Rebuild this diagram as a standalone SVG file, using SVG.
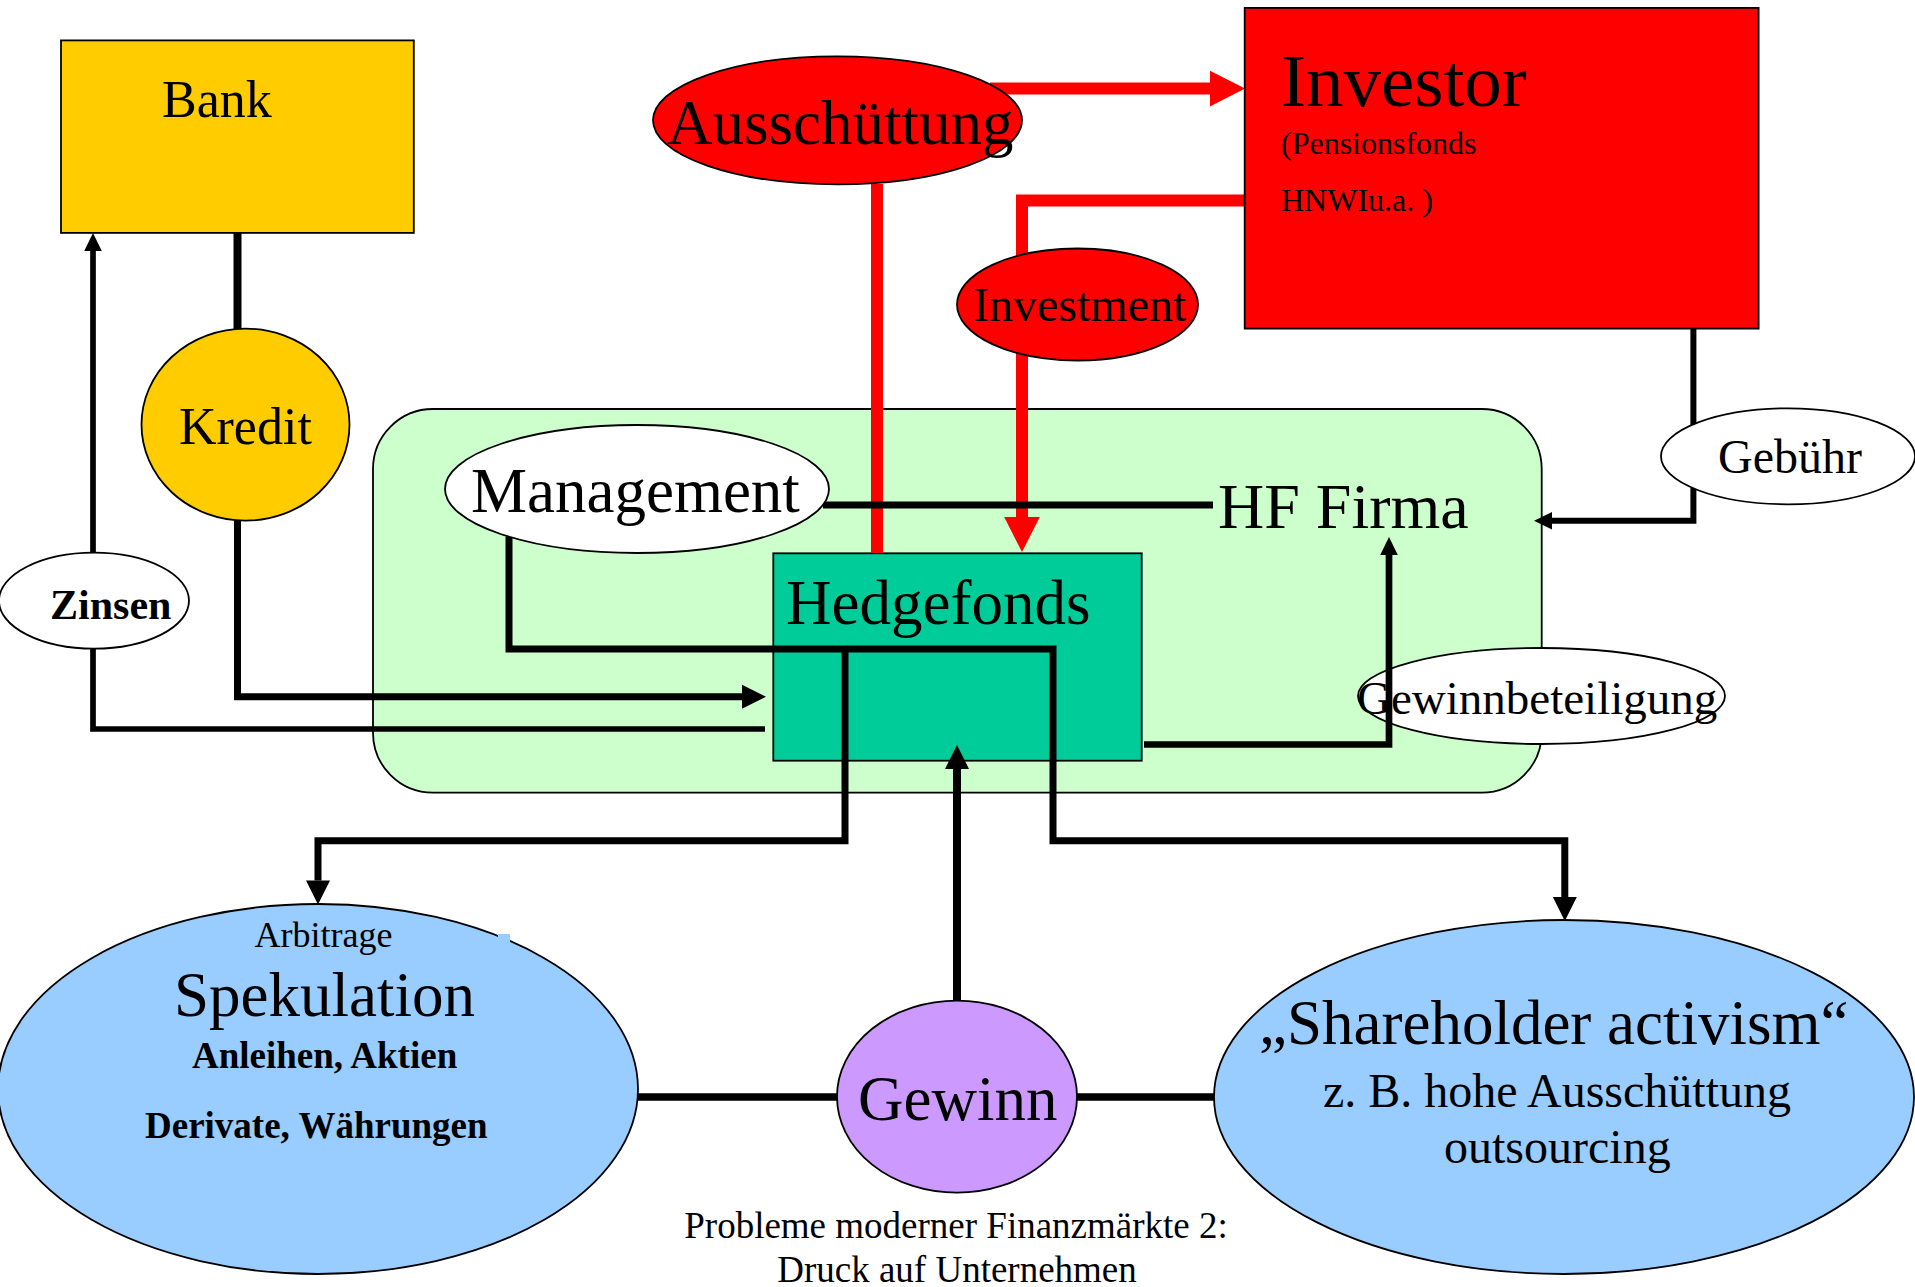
<svg xmlns="http://www.w3.org/2000/svg" width="1915" height="1287" viewBox="0 0 1915 1287">
<style>
text{font-family:"Liberation Serif","Times New Roman",serif;fill:#000}
.b{font-weight:bold}
.nd{stroke:#000;stroke-width:1.8}
.k{fill:none;stroke:#000;stroke-linejoin:miter;stroke-linecap:butt}
.r{fill:none;stroke:#FF0000;stroke-width:12;stroke-linejoin:miter}
</style>
<defs>
<marker id="aS" markerUnits="userSpaceOnUse" markerWidth="20" markerHeight="20" viewBox="0 -10 20 20" refX="0" refY="0" orient="auto" overflow="visible"><path d="M0,-8.8 L18,0 L0,8.8 z" fill="#000"/></marker>
<marker id="aM" markerUnits="userSpaceOnUse" markerWidth="26" markerHeight="26" viewBox="0 -13 26 26" refX="0" refY="0" orient="auto" overflow="visible"><path d="M0,-12 L24,0 L0,12 z" fill="#000"/></marker>
<marker id="aR" markerUnits="userSpaceOnUse" markerWidth="36" markerHeight="36" viewBox="0 -18 36 36" refX="0" refY="0" orient="auto" overflow="visible"><path d="M0,-17.8 L35,0 L0,17.8 z" fill="#FF0000"/></marker>
</defs>

<g id="hf-firma">
<rect x="373" y="409" width="1168.7" height="383.7" rx="60" ry="60" fill="#CCFFCC" stroke="#000" stroke-width="1.8"/>
<text x="1218" y="528" font-size="64">HF Firma</text>
</g>
<g id="hedgefonds">
<rect x="773.3" y="553.3" width="368.4" height="207.4" fill="#00CC99" class="nd"/>
<text x="786" y="624" font-size="63">Hedgefonds</text>
</g>
<g id="gewinnbeteiligung">
<ellipse cx="1541.5" cy="696" rx="183.5" ry="48" fill="#FFFFFF" class="nd"/>
</g>

<g id="connectors">
<path class="r" d="M877,184 V553"/>
<path class="r" d="M990,88.6 H1210" marker-end="url(#aR)"/>
<path class="r" d="M1245,200.5 H1022 V517" marker-end="url(#aR)"/>
<path class="k" stroke-width="8" d="M237.5,233 V330"/>
<path class="k" stroke-width="7" d="M237.5,518 V696.7 H742" marker-end="url(#aM)"/>
<path class="k" stroke-width="5.7" d="M93,553 V251" marker-end="url(#aS)"/>
<path class="k" stroke-width="5.7" d="M93,647 V729 H765"/>
<path class="k" stroke-width="7" d="M823,505 H1213"/>
<path class="k" stroke-width="7" d="M509,537 V649 H1053 V840.7 H1564.8 V897" marker-end="url(#aM)"/>
<path class="k" stroke-width="7" d="M845,649 V840.7 H318 V880.6" marker-end="url(#aM)"/>
<path class="k" stroke-width="8" d="M957,1000 V769" marker-end="url(#aM)"/>
<path class="k" stroke-width="7.3" d="M636,1097 H838"/>
<path class="k" stroke-width="7.3" d="M1076,1097 H1215"/>
<path class="k" stroke-width="6.7" d="M1144,744.5 H1389 V555" marker-end="url(#aS)"/>
<path class="k" stroke-width="6" d="M1693.4,329 V520.7 H1552" marker-end="url(#aS)"/>
</g>

<g id="gewinnbeteiligung-label">
<text x="1357" y="713.5" font-size="47">Gewinnbeteiligung</text>
</g>

<g id="bank">
<rect x="61" y="40.4" width="352.8" height="192.5" fill="#FFCC00" class="nd"/>
<text x="162" y="117" font-size="52">Bank</text>
</g>
<g id="kredit">
<ellipse cx="245.5" cy="424.6" rx="104" ry="96" fill="#FFCC00" class="nd"/>
<text x="179" y="444" font-size="52">Kredit</text>
</g>
<g id="zinsen">
<ellipse cx="94" cy="600.7" rx="95" ry="48" fill="#FFFFFF" class="nd"/>
<text class="b" x="50" y="619" font-size="42">Zinsen</text>
</g>
<g id="investor">
<rect x="1244.7" y="7.9" width="513.9" height="320.7" fill="#FF0000" class="nd"/>
<text x="1281" y="106" font-size="75">Investor</text>
<text x="1281" y="154" font-size="32">(Pensionsfonds</text>
<text x="1281" y="211" font-size="32">HNWIu.a. )</text>
</g>
<g id="ausschuettung">
<ellipse cx="837.5" cy="120.3" rx="184.5" ry="64" fill="#FF0000" class="nd"/>
<text x="667" y="144" font-size="63">Ausschüttung</text>
</g>
<g id="investment">
<ellipse cx="1077.5" cy="304.5" rx="120.5" ry="56" fill="#FF0000" class="nd"/>
<text x="973" y="321" font-size="48">Investment</text>
</g>
<g id="management">
<ellipse cx="637" cy="489" rx="192" ry="64" fill="#FFFFFF" class="nd"/>
<text x="471" y="512" font-size="63">Management</text>
</g>
<g id="gebuehr">
<ellipse cx="1788" cy="456.3" rx="127" ry="48" fill="#FFFFFF" class="nd"/>
<text x="1718" y="473" font-size="48">Gebühr</text>
</g>
<g id="spekulation">
<ellipse cx="318" cy="1089" rx="320" ry="185" fill="#99CCFF" class="nd"/>
<rect x="498" y="934" width="12" height="8" fill="#99CCFF"/>
<text x="254.5" y="947" font-size="36">Arbitrage</text>
<text x="174" y="1016" font-size="63">Spekulation</text>
<text class="b" x="192" y="1068" font-size="37">Anleihen, Aktien</text>
<text class="b" x="145" y="1138" font-size="37">Derivate, Währungen</text>
</g>
<g id="gewinn">
<ellipse cx="957" cy="1096.7" rx="120" ry="96" fill="#CC99FF" class="nd"/>
<text x="858" y="1120" font-size="63">Gewinn</text>
</g>
<g id="shareholder">
<ellipse cx="1564" cy="1097" rx="350" ry="177" fill="#99CCFF" class="nd"/>
<text x="1259" y="1044" font-size="63">„Shareholder activism“</text>
<text x="1323" y="1107" font-size="48">z. B. hohe Ausschüttung</text>
<text x="1444" y="1163" font-size="48">outsourcing</text>
</g>
<g id="caption">
<text x="956" y="1238" font-size="37" text-anchor="middle">Probleme moderner Finanzmärkte 2:</text>
<text x="957" y="1282" font-size="37" text-anchor="middle">Druck auf Unternehmen</text>
</g>
</svg>
